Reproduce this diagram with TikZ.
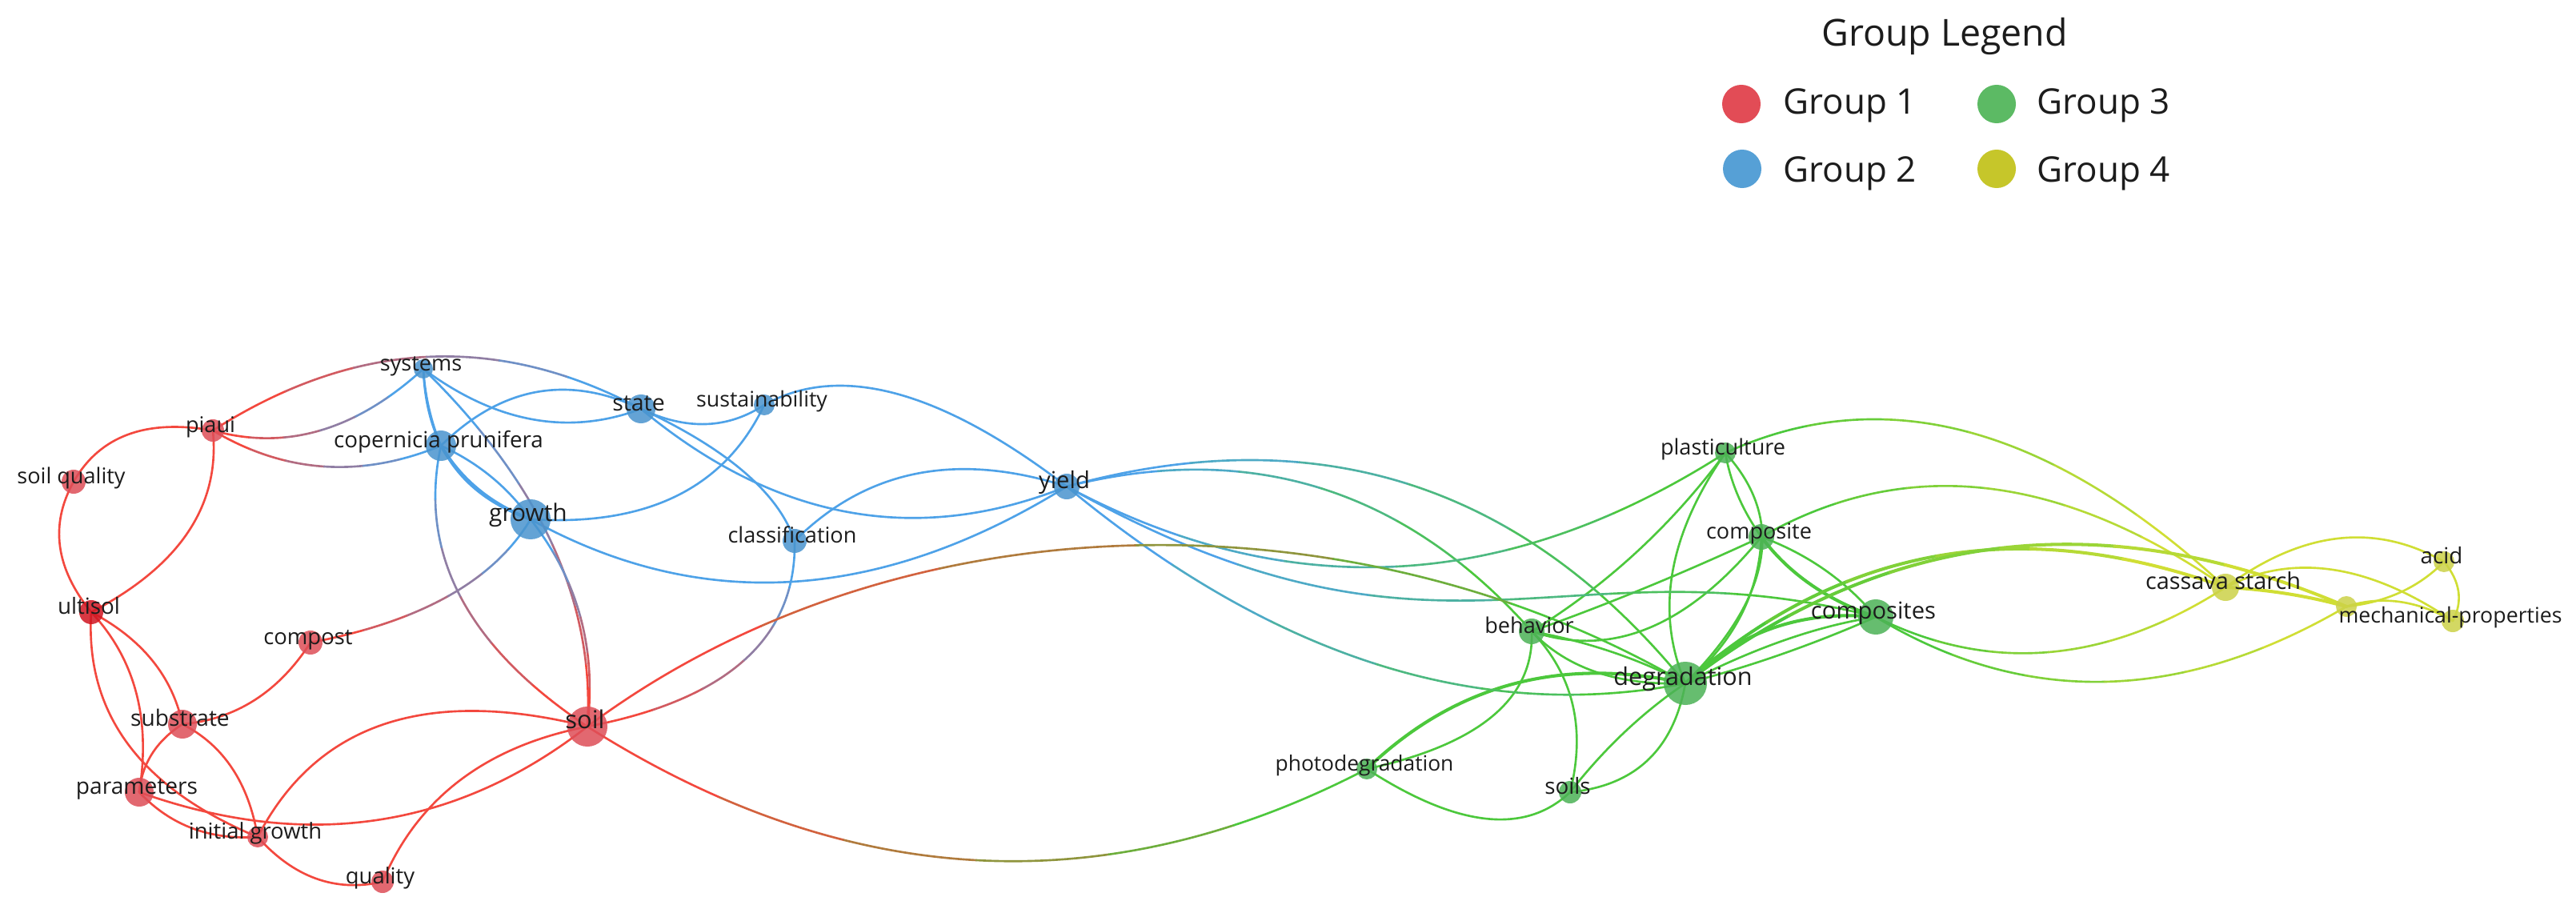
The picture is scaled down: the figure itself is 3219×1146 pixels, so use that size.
\documentclass[tikz,border=0pt]{standalone}
\usepackage{fontspec}
\usetikzlibrary{calc}
\newfontfamily\lblfont{Open Sans}
\newfontfamily\legfont{Open Sans}
\pgfdeclarelayer{bg}
\pgfdeclarelayer{edges}
\pgfsetlayers{bg,edges,main}
% edge colours
\definecolor{cR}{RGB}{243,72,62}
\definecolor{cB}{RGB}{78,162,232}
\definecolor{cG}{RGB}{76,200,60}
\definecolor{cY}{RGB}{208,222,52}
% node colours
\definecolor{nR}{RGB}{222,78,88}
\definecolor{nRd}{RGB}{208,22,34}
\definecolor{nB}{RGB}{74,148,206}
\definecolor{nG}{RGB}{76,178,86}
\definecolor{nY}{RGB}{204,210,72}
% legend colours
\definecolor{lR}{RGB}{226,76,86}
\definecolor{lB}{RGB}{86,160,214}
\definecolor{lG}{RGB}{92,186,100}
\definecolor{lY}{RGB}{198,198,42}
\definecolor{txt}{RGB}{28,28,28}
\tikzset{
  gnode/.style={circle, inner sep=0pt, draw=none, fill opacity=0.85},
  lbl/.style={inner sep=0pt, anchor=base, text=txt},
  er/.style={cR, line width=0.75pt},
  eb/.style={cB, line width=0.75pt},
  eg/.style={cG, line width=0.75pt},
  ey/.style={cY, line width=0.75pt},
  thk/.style={line width=1.15pt},
  legtxt/.style={inner sep=0pt, text=txt}
}
% quadratic-like link through mid point #4
\newcommand\qlk[4]{\draw[#1] (#2.center) .. controls ($4/3*#4-1/3*(#3.center)$) and ($4/3*#4-1/3*(#2.center)$) .. (#3.center);}
% gradient curve using control coordinates gc1, gc2
\newcommand\gradcurve[4]{%
  \foreach \ta/\tb/\pc in {0/0.17/0,0.17/0.33/20,0.33/0.5/40,0.5/0.67/60,0.67/0.83/80,0.83/1/100}{%
    \pgfsetstrokecolor{#2!\pc!#1}%
    \pgfpathcurvebetweentime{\ta}{\tb}{\pgfpointanchor{#3}{center}}{\pgfpointanchor{gc1}{center}}{\pgfpointanchor{gc2}{center}}{\pgfpointanchor{#4}{center}}%
    \pgfusepath{stroke}%
  }}
\newcommand\glk[5]{\coordinate (gc1) at ($4/3*#5-1/3*(#4.center)$); \coordinate (gc2) at ($4/3*#5-1/3*(#3.center)$); \gradcurve{#1}{#2}{#3}{#4}}
\newcommand\glkc[6]{\coordinate (gc1) at #5; \coordinate (gc2) at #6; \gradcurve{#1}{#2}{#3}{#4}}
% keyword node: name x y radius fill label size
\newcommand\kw[7]{%
  \node[gnode, fill=#5, minimum size=#4*0.02cm] (#1) at (#2,-#3) {};
  \node[lbl, font=\lblfont\fontsize{#7}{#7}\selectfont] (l-#1) at ($(#1.center)+(-3,-2)$) {#6};}

\begin{document}
\begin{tikzpicture}[x=0.01cm, y=0.01cm]
\begin{pgfonlayer}{bg}
\fill[white] (0,0) rectangle (3219,-1146);
\end{pgfonlayer}
\useasboundingbox (0,0) rectangle (3219,-1146);

% ---------- nodes ----------
\kw{systems}{529}{461}{12}{nB}{systems}{7.7}
\kw{piaui}{266}{538}{14}{nR}{piaui}{7.7}
\kw{cop}{551}{557}{19}{nB}{copernicia prunifera}{7.9}
\kw{soilq}{92}{602}{15}{nR}{soil quality}{7.7}
\kw{growth}{663}{649}{25}{nB}{growth}{8.5}
\kw{ultisol}{114}{765}{15}{nRd}{ultisol}{7.9}
\kw{compost}{388}{803}{15}{nR}{compost}{7.8}
\kw{substrate}{228}{905}{18}{nR}{substrate}{8.0}
\kw{soil}{734}{908}{25}{nR}{soil}{8.8}
\kw{parameters}{174}{990}{18}{nR}{parameters}{8.0}
\kw{initg}{322}{1046}{13}{nR}{initial growth}{7.8}
\kw{quality}{478}{1102}{14}{nR}{quality}{7.8}
\kw{state}{801}{511}{18}{nB}{state}{8.1}
\kw{sust}{955}{506}{13}{nB}{sustainability}{7.6}
\kw{classif}{993}{676}{15}{nB}{classification}{7.7}
\kw{yield}{1333}{608}{16}{nB}{yield}{8.3}
\kw{plast}{2156}{566}{13}{nG}{plasticulture}{7.7}
\kw{composite}{2201}{671}{16}{nG}{composite}{7.7}
\kw{behavior}{1914}{789}{16}{nG}{behavior}{7.7}
\kw{degr}{2106}{854}{27}{nG}{degradation}{8.7}
\kw{composites}{2344}{771}{22}{nG}{composites}{8.3}
\kw{photo}{1708}{961}{13}{nG}{photodegradation}{7.5}
\kw{soils}{1962}{990}{14}{nG}{soils}{7.9}
\kw{cassava}{2781}{734}{17}{nY}{cassava starch}{8.2}
\node[gnode, fill=nY, minimum size=13*0.02cm] (unl) at (2932,-758) {};
\kw{acid}{3054}{702}{13}{nY}{acid}{7.9}
\kw{mech}{3065}{776}{14}{nY}{mechanical-properties}{7.6}

% ---------- edges ----------
\begin{pgfonlayer}{edges}
\begin{scope}[line cap=round]
% group 1
\qlk{er}{piaui}{soilq}{(160,-543)}
\qlk{er}{piaui}{ultisol}{(235,-665)}
\qlk{er}{soilq}{ultisol}{(75,-683)}
\qlk{er}{ultisol}{substrate}{(190,-825)}
\qlk{er}{ultisol}{parameters}{(170,-865)}
\qlk{er}{ultisol}{initg}{(160,-930)}
\qlk{er}{substrate}{compost}{(318,-875)}
\qlk{er}{substrate}{parameters}{(190,-942)}
\qlk{er}{substrate}{initg}{(290,-960)}
\qlk{er}{parameters}{initg}{(240,-1035)}
\qlk{er}{parameters}{soil}{(470,-1025)}
\qlk{er}{initg}{soil}{(480,-905)}
\qlk{er}{initg}{quality}{(395,-1098)}
\qlk{er}{quality}{soil}{(575,-975)}
% group 2
\qlk{eb}{systems}{cop}{(536,-510)}
\qlk{eb}{systems}{growth}{(565,-580)}
\qlk{eb,thk}{cop}{growth}{(598,-612)}
\qlk{eb}{cop}{growth}{(614,-596)}
\qlk{eb}{systems}{state}{(665,-524)}
\qlk{eb}{cop}{state}{(670,-490)}
\qlk{eb}{state}{sust}{(882,-530)}
\qlk{eb}{state}{yield}{(1060,-640)}
\qlk{eb}{state}{classif}{(930,-590)}
\qlk{eb}{sust}{growth}{(845,-620)}
\qlk{eb}{sust}{yield}{(1120,-492)}
\qlk{eb}{growth}{yield}{(990,-727)}
\qlk{eb}{classif}{yield}{(1145,-592)}
% group 3
\qlk{eg}{plast}{composite}{(2172,-620)}
\qlk{eg}{plast}{degr}{(2200,-700)}
\qlk{eg}{plast}{degr}{(2090,-715)}
\qlk{eg}{plast}{behavior}{(2045,-690)}
\qlk{eg}{composite}{degr}{(2175,-770)}
\qlk{eg}{composite}{behavior}{(2055,-735)}
\qlk{eg}{composite}{behavior}{(2060,-785)}
\qlk{eg,thk}{composite}{composites}{(2262,-730)}
\qlk{eg}{composite}{composites}{(2280,-712)}
\qlk{eg,thk}{degr}{composites}{(2215,-785)}
\qlk{eg}{degr}{composites}{(2225,-818)}
\qlk{eg}{degr}{composites}{(2230,-800)}
\qlk{eg}{behavior}{degr}{(2015,-815)}
\qlk{eg}{behavior}{degr}{(1995,-840)}
\qlk{eg}{behavior}{soils}{(1965,-880)}
\qlk{eg}{behavior}{photo}{(1865,-895)}
\qlk{eg,thk}{photo}{degr}{(1890,-855)}
\qlk{eg}{photo}{soils}{(1856,-1023)}
\qlk{eg}{soils}{degr}{(2030,-915)}
\qlk{eg}{soils}{degr}{(2059,-950)}
% group 4
\qlk{ey}{cassava}{acid}{(2921,-673)}
\qlk{ey,thk}{cassava}{unl}{(2858,-742)}
\qlk{ey}{cassava}{mech}{(2915,-712)}
\qlk{ey}{unl}{acid}{(3000,-740)}
\qlk{ey}{unl}{mech}{(2998,-752)}
\qlk{ey}{acid}{mech}{(3072,-739)}
\end{scope}
% cross-group gradient edges
\begin{scope}[line width=0.75pt, line cap=round]
\glk{cR}{cB}{piaui}{state}{(533,-446)}
\glk{cR}{cB}{piaui}{systems}{(400,-538)}
\glk{cR}{cB}{piaui}{cop}{(405,-583)}
\glk{cR}{cB}{compost}{growth}{(560,-745)}
\glk{cR}{cB}{soil}{systems}{(690,-680)}
\glk{cR}{cB}{soil}{growth}{(725,-770)}
\glk{cR}{cB}{soil}{cop}{(575,-745)}
\glk{cR}{cB}{soil}{classif}{(930,-825)}
\glk{cB}{cG}{yield}{degr}{(1760,-605)}
\glk{cB}{cG}{yield}{behavior}{(1650,-610)}
\glk{cB}{cG}{yield}{plast}{(1745,-708)}
\glkc{cB}{cG}{yield}{composites}{(1800,-870)}{(1950,-670)}
\glk{cB}{cG}{yield}{degr}{(1720,-830)}
\glkc{cR}{cG}{soil}{degr}{(1134,-610)}{(1706,-620)}
\glk{cR}{cG}{soil}{photo}{(1220,-1075)}
\glk{cG}{cY}{plast}{cassava}{(2460,-540)}
\glk{cG}{cY}{composite}{cassava}{(2480,-610)}
\glk{cG}{cY}{composites}{cassava}{(2560,-815)}
\glk{cG}{cY}{composites}{unl}{(2630,-852)}
\end{scope}
\begin{scope}[line width=1.15pt, line cap=round]
\glk{cG}{cY}{degr}{cassava}{(2420,-695)}
\glk{cG}{cY}{degr}{unl}{(2500,-685)}
\end{scope}
\end{pgfonlayer}

% ---------- legend ----------
\node[legtxt, anchor=base, font=\legfont\fontsize{13.2}{15}\selectfont] (lgtitle) at (2430,-58) {Group Legend};
\node[circle, inner sep=0pt, fill=lR, minimum size=0.48cm] (lg1) at (2176,-130) {};
\node[circle, inner sep=0pt, fill=lB, minimum size=0.48cm] (lg2) at (2177,-211) {};
\node[circle, inner sep=0pt, fill=lG, minimum size=0.48cm] (lg3) at (2495,-130) {};
\node[circle, inner sep=0pt, fill=lY, minimum size=0.48cm] (lg4) at (2495,-211) {};
\node[legtxt, anchor=base west, font=\legfont\fontsize{12.5}{14}\selectfont] (lt1) at (2228,-143) {Group 1};
\node[legtxt, anchor=base west, font=\legfont\fontsize{12.5}{14}\selectfont] (lt2) at (2228,-228) {Group 2};
\node[legtxt, anchor=base west, font=\legfont\fontsize{12.5}{14}\selectfont] (lt3) at (2545,-143) {Group 3};
\node[legtxt, anchor=base west, font=\legfont\fontsize{12.5}{14}\selectfont] (lt4) at (2545,-228) {Group 4};
\end{tikzpicture}
\end{document}
